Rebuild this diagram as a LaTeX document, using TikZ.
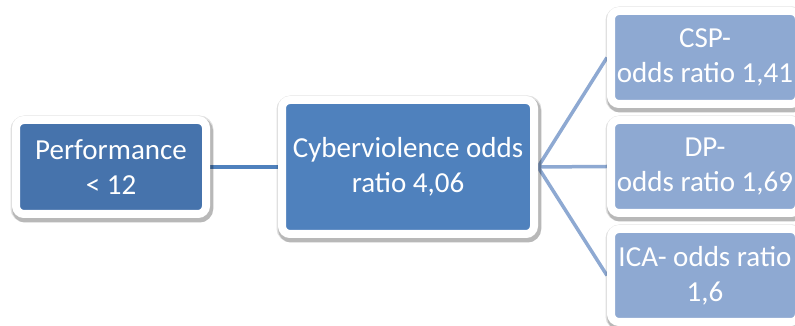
\documentclass[tikz,border=0pt]{standalone}
\usepackage{fontspec}
\setmainfont{Carlito}
\usetikzlibrary{shadows,backgrounds}
\definecolor{perfblue}{HTML}{4673AC}
\definecolor{midblue}{HTML}{4F81BD}
\definecolor{paleblue}{HTML}{8EA9D2}

\begin{document}
\begin{tikzpicture}[x=1pt,y=1pt,
		box/.style={rectangle, rounded corners=8pt, draw=white, line width=8pt,
			text=white, align=center, inner sep=0pt,
			font=\fontsize{29}{35}\selectfont,
			general shadow={shadow xshift=1.5pt, shadow yshift=-3pt, opacity=0.18,
				fill=black, draw=black, line width=11pt},
			general shadow={shadow xshift=1pt, shadow yshift=-2pt, opacity=0.12,
				fill=black, draw=black, line width=13pt}},
		link/.style={line width=4pt, midblue},
		fork/.style={line width=3.5pt, paleblue}]
		\useasboundingbox (0,0) rectangle (795,326);
		\clip (0,0) rectangle (795,326);
		\node[box, fill=perfblue, minimum width=190, minimum height=94] (perf) at (111,159) {Performance\\< 12};
		\node[box, fill=midblue, minimum width=252, minimum height=134] (cyber) at (408,159) {Cyberviolence odds\\ratio 4,06};
		\node[box, fill=paleblue, minimum width=188, minimum height=93] (csp) at (705,268.5) {CSP-\\odds ratio 1,41};
		\node[box, fill=paleblue, minimum width=188, minimum height=93] (dp) at (705,159.5) {DP-\\odds ratio 1,69};
		\node[box, fill=paleblue, minimum width=188, minimum height=93] (ica) at (705,50.5) {ICA- odds ratio\\1,6};
		\begin{scope}[on background layer]
			\draw[link] (perf.east) -- (cyber.west);
			\draw[fork] (cyber.east) -- (csp.west);
			\draw[fork] (cyber.east) -- (dp.west);
			\draw[fork] (cyber.east) -- (ica.west);
		\end{scope}
	\end{tikzpicture}
\end{document}
